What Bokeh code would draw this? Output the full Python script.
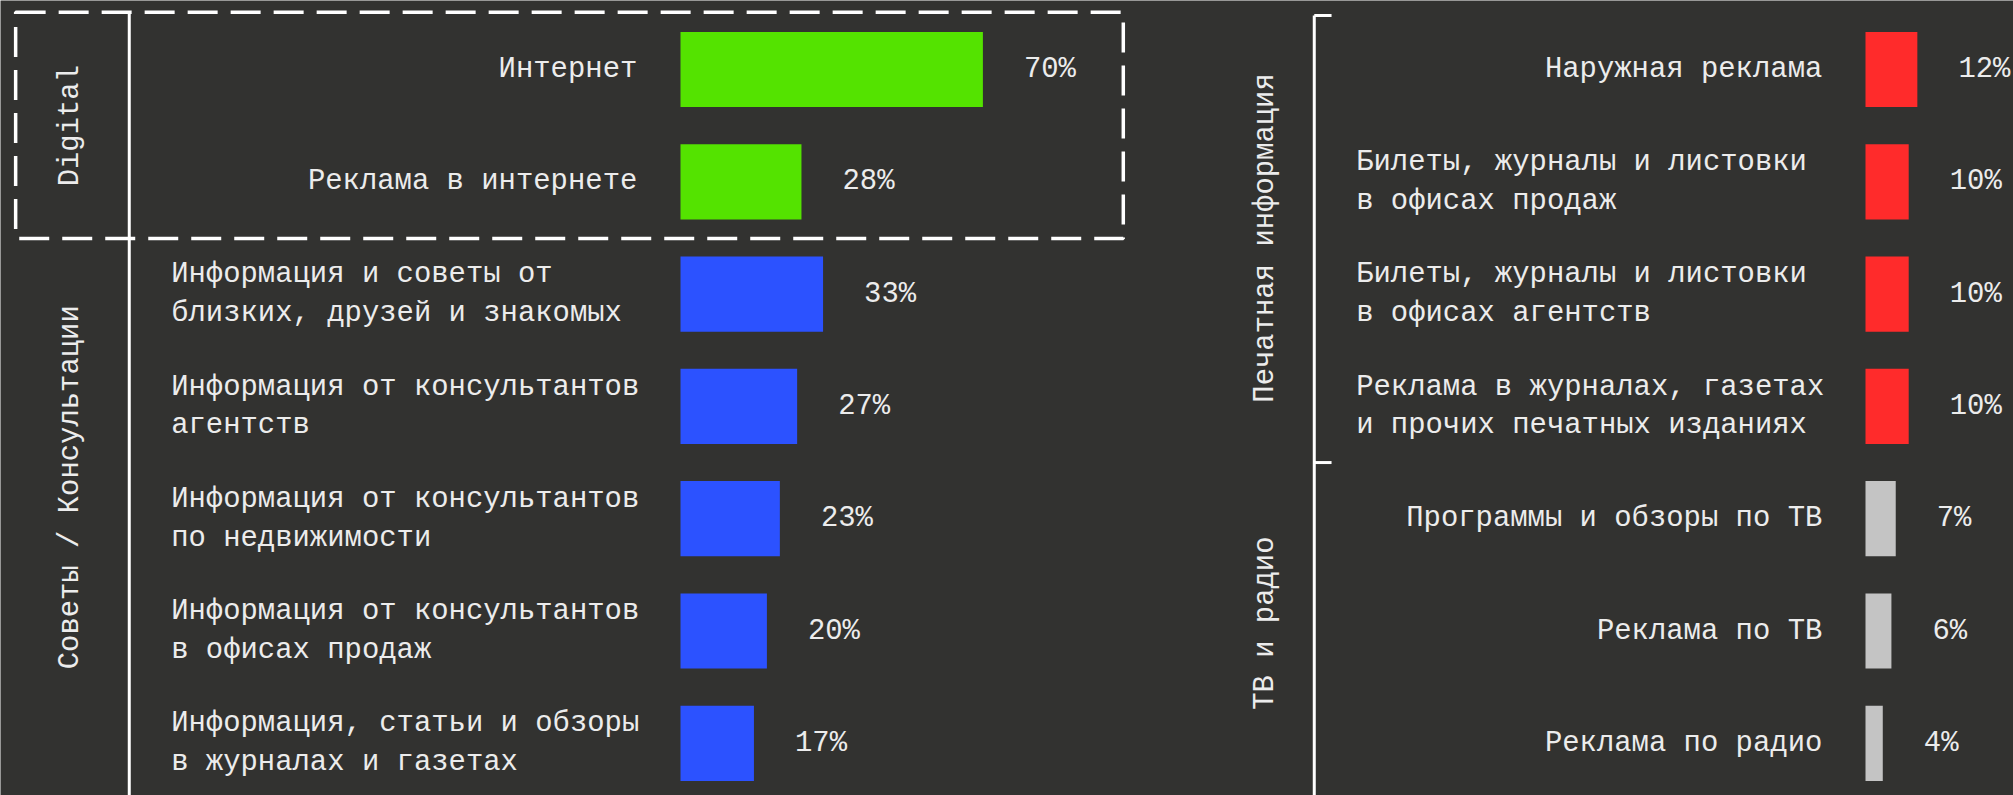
from math import pi
from bokeh.plotting import figure
from bokeh.models import Range1d, ColumnDataSource
from bokeh.embed import file_html
from bokeh.resources import INLINE
from bokeh.core.properties import value

# ---------------- data ----------------
left_labels = [
    "Интернет",
    "Реклама в интернете",
    "Информация и советы от\nблизких, друзей и знакомых",
    "Информация от консультантов\nагентств",
    "Информация от консультантов\nпо недвижимости",
    "Информация от консультантов\nв офисах продаж",
    "Информация, статьи и обзоры\nв журналах и газетах",
]
left_values = [70, 28, 33, 27, 23, 20, 17]
left_groups = ["Digital", "Digital", "Советы / Консультации", "Советы / Консультации",
               "Советы / Консультации", "Советы / Консультации", "Советы / Консультации"]

right_labels = [
    "Наружная реклама",
    "Билеты, журналы и листовки\nв офисах продаж",
    "Билеты, журналы и листовки\nв офисах агентств",
    "Реклама в журналах, газетах\nи прочих печатных изданиях",
    "Программы и обзоры по ТВ",
    "Реклама по ТВ",
    "Реклама по радио",
]
right_values = [12, 10, 10, 10, 7, 6, 4]
right_groups = ["Печатная информация", "Печатная информация", "Печатная информация",
                "Печатная информация", "ТВ и радио", "ТВ и радио", "ТВ и радио"]

group_colors = {
    "Digital": "#54E300",
    "Советы / Консультации": "#2C52FF",
    "Печатная информация": "#FF2B2B",
    "ТВ и радио": "#C4C4C4",
}

# ---------------- style / layout ----------------
W, H = 2013, 795
BG = "#323230"
TXT = "#ECECEC"
FONT = value("Liberation Mono")
FS = "28.9px"
PX_PER = 4.32                 # pixels per percent
LEFT_ZERO_PX = 680            # screen x of left bars' base
RIGHT_ZERO_PX = 1865          # screen x of right bars' base
ROW0_PX, ROW_STEP = 69.0, 112.3
BAR_H = 0.67
LABEL_GAP = -10.0             # right edge of single-line labels (percent units)
BLOCK_LEFT = -117.9           # left edge of two-line label blocks
PCT_GAP = 9.5
GROUP_X = {"Digital": -141.2, "Советы / Консультации": -141.2,
           "Печатная информация": -138.9, "ТВ и радио": -138.9}
GROUP_Y = {"Digital": 0.5, "Советы / Консультации": 3.72,
           "Печатная информация": 1.5, "ТВ и радио": 4.93}

x_left = Range1d(-LEFT_ZERO_PX / PX_PER, (W - LEFT_ZERO_PX) / PX_PER)
x_right = Range1d(-RIGHT_ZERO_PX / PX_PER, (W - RIGHT_ZERO_PX) / PX_PER)
y_rng = Range1d((H - ROW0_PX) / ROW_STEP, -ROW0_PX / ROW_STEP)

p = figure(width=W, height=H, x_range=x_left, y_range=y_rng,
           output_backend="svg", toolbar_location=None, min_border=0,
           background_fill_color=BG, border_fill_color=BG, outline_line_color=None)
p.extra_x_ranges = {"right": x_right}
p.axis.visible = False
p.grid.visible = False
p.xaxis.visible = False
p.yaxis.visible = False


def panel(labels, values, groups, rng):
    kw = {} if rng is None else {"x_range_name": rng}
    rows = list(range(len(values)))
    src = ColumnDataSource(dict(
        y=rows, v=values, color=[group_colors[g] for g in groups],
        pct=[f"{v}%" for v in values],
        px=[v + PCT_GAP for v in values],
    ))
    p.hbar(y="y", left=0, right="v", height=BAR_H, fill_color="color",
           line_color=None, source=src, **kw)
    p.text(x="px", y="y", text="pct", source=src, text_font=FONT, text_font_size=FS,
           text_color=TXT, text_align="left", text_baseline="middle", **kw)
    single = [i for i, t in enumerate(labels) if "\n" not in t]
    multi = [i for i, t in enumerate(labels) if "\n" in t]
    p.text(x=[LABEL_GAP] * len(single), y=single, text=[labels[i] for i in single],
           text_font=FONT, text_font_size=FS, text_color=TXT,
           text_align="right", text_baseline="middle", **kw)
    p.text(x=[BLOCK_LEFT] * len(multi), y=multi, text=[labels[i] for i in multi],
           text_font=FONT, text_font_size=FS, text_color=TXT, text_line_height=1.17,
           text_align="left", text_baseline="middle", **kw)
    names = list(dict.fromkeys(groups))
    p.text(x=[GROUP_X[g] for g in names], y=[GROUP_Y[g] for g in names], text=names,
           angle=pi / 2, text_font=FONT, text_font_size=FS, text_color=TXT,
           text_align="center", text_baseline="middle", **kw)


panel(left_labels, left_values, left_groups, None)
panel(right_labels, right_values, right_groups, "right")

# bracket lines
BR_X = -127.6
p.segment(x0=[BR_X], y0=[-0.51], x1=[BR_X], y1=[7.5], line_color="white", line_width=3)
p.segment(x0=[BR_X], y0=[-0.48], x1=[BR_X], y1=[7.5], line_color="white", line_width=3,
          x_range_name="right")
p.segment(x0=[BR_X, BR_X], y0=[-0.48, 3.5], x1=[BR_X + 4, BR_X + 4], y1=[-0.48, 3.5],
          line_color="white", line_width=3, x_range_name="right")

# dashed "Digital" frame
p.quad(left=[-153.9], right=[102.5], top=[-0.51], bottom=[1.505], fill_alpha=0,
       line_color="white", line_width=3.5, line_dash="30 13")

open("out.html", "w").write(file_html(p, INLINE))
